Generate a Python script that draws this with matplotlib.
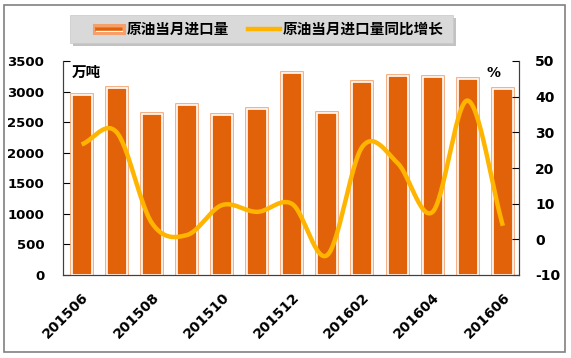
import numpy as np
import matplotlib
matplotlib.use("Agg")
import matplotlib.pyplot as plt
from matplotlib.patches import Rectangle
from matplotlib.lines import Line2D

plt.rcParams['font.family'] = ['DejaVu Sans', 'Noto Sans CJK SC']

months = ['201506', '201507', '201508', '201509', '201510', '201511', '201512',
          '201601', '201602', '201603', '201604', '201605', '201606']
imports = [2936, 3059, 2641, 2780, 2617, 2715, 3296, 2650, 3157, 3247, 3239, 3206, 3042]
growth = [26.6, 30.0, 4.6, 1.2, 9.6, 7.7, 9.9, -4.4, 26.0, 21.4, 7.7, 38.9, 3.8]
left_ticks = list(range(0, 3501, 500))
right_ticks = list(range(-10, 51, 10))

bar_name = '原油当月进口量'
line_name = '原油当月进口量同比增长'

DARK = '#E2620A'
LIGHT = '#F5A06A'
AMBER = '#FFB400'
W, H = 571, 358


def smooth(y, n=30):
    # Catmull-Rom through the points, drawn like Excel's smoothed line
    y = np.asarray(y, float)
    x = np.arange(len(y), dtype=float)
    px = np.concatenate([[2 * x[0] - x[1]], x, [2 * x[-1] - x[-2]]])
    py = np.concatenate([[2 * y[0] - y[1]], y, [2 * y[-1] - y[-2]]])
    xs, ys = [], []
    t = np.linspace(0, 1, n, endpoint=False)
    for i in range(1, len(px) - 2):
        for arr, out in ((px, xs), (py, ys)):
            p0, p1, p2, p3 = arr[i - 1], arr[i], arr[i + 1], arr[i + 2]
            out.extend(0.5 * ((2 * p1) + (-p0 + p2) * t + (2 * p0 - 5 * p1 + 4 * p2 - p3) * t ** 2
                              + (-p0 + 3 * p1 - 3 * p2 + p3) * t ** 3))
    xs.append(x[-1])
    ys.append(y[-1])
    return np.array(xs), np.array(ys)


def fx(p):
    return p / W


def fy(p):
    return 1 - p / H


fig = plt.figure(figsize=(W / 100, H / 100), dpi=100)

# outer frame
fig.patches.append(Rectangle((fx(4), fy(352)), fx(561), 347 / H, transform=fig.transFigure,
                             facecolor='none', edgecolor='#808080', linewidth=1.2, zorder=5))

ax = fig.add_axes([63 / W, 1 - 275 / H, 456 / W, 214 / H])
ax.set_facecolor('none')
x = np.arange(len(months))
ax.bar(x, imports, width=0.57, facecolor='none', edgecolor=LIGHT, linewidth=2.6, zorder=2)
ax.bar(x, imports, width=0.57, facecolor=DARK, edgecolor='white', linewidth=1.2, zorder=3)
ax.set_xlim(-0.53, 12.46)
ax.set_ylim(0, 3500)
ax.set_yticks(left_ticks)
ax.set_yticklabels([str(v) for v in left_ticks], fontsize=9.5, fontweight='bold')
ax.set_xticks(x[::2])
ax.set_xticklabels(months[::2], rotation=45, ha='right', rotation_mode='anchor',
                   fontsize=10, fontweight='bold')
ax.tick_params(axis='x', length=0, pad=11)
ax.tick_params(axis='y', direction='in', length=5, pad=13.5)
ax.spines['top'].set_visible(False)
for s in ('left', 'bottom', 'right'):
    ax.spines[s].set_color('#404040')

ax2 = ax.twinx()
xs, ys = smooth(growth)
ax2.plot(xs, ys, color=AMBER, linewidth=3.2, solid_capstyle='butt', zorder=4)
ax2.set_ylim(-10, 50)
ax2.set_yticks(right_ticks)
ax2.set_yticklabels([str(v) for v in right_ticks], fontsize=10, fontweight='bold')
ax2.tick_params(axis='y', direction='in', length=5, pad=11.5)
ax2.spines['top'].set_visible(False)
for s in ('left', 'bottom', 'right'):
    ax2.spines[s].set_color('#404040')

ax.text(0.02, 0.985, '万吨', transform=ax.transAxes, ha='left', va='top',
        fontsize=10.5, fontweight='bold', family=['Noto Sans CJK SC'])
ax.text(0.96, 0.975, '%', transform=ax.transAxes, ha='right', va='top',
        fontsize=10, fontweight='bold')

# legend box with shadow
fig.patches.append(Rectangle((fx(73), fy(46)), fx(383), 28 / H, transform=fig.transFigure,
                             facecolor='#9A9A9A', edgecolor='none', alpha=0.6, zorder=1))
fig.patches.append(Rectangle((fx(70), fy(43)), fx(383), 28 / H, transform=fig.transFigure,
                             facecolor='#D9D9D9', edgecolor='#C8C8C8', linewidth=0.5, zorder=2))
fig.patches.append(Rectangle((fx(94), fy(33)), fx(30), 8 / H, transform=fig.transFigure,
                             facecolor='white', edgecolor=LIGHT, linewidth=2.2, zorder=3))
fig.lines.append(Line2D([fx(97), fx(121)], [fy(29), fy(29)], transform=fig.transFigure,
                        color=DARK, linewidth=2.6, zorder=4))
fig.lines.append(Line2D([fx(248), fx(280)], [fy(29), fy(29)], transform=fig.transFigure,
                        color=AMBER, linewidth=3.2, zorder=4))
fig.text(fx(127), fy(29), bar_name, ha='left', va='center', fontsize=10.5,
         fontweight='bold', family=['Noto Sans CJK SC'], zorder=5)
fig.text(fx(283), fy(29), line_name, ha='left', va='center', fontsize=10.5,
         fontweight='bold', family=['Noto Sans CJK SC'], zorder=5)

fig.savefig('out.png', dpi=100)
